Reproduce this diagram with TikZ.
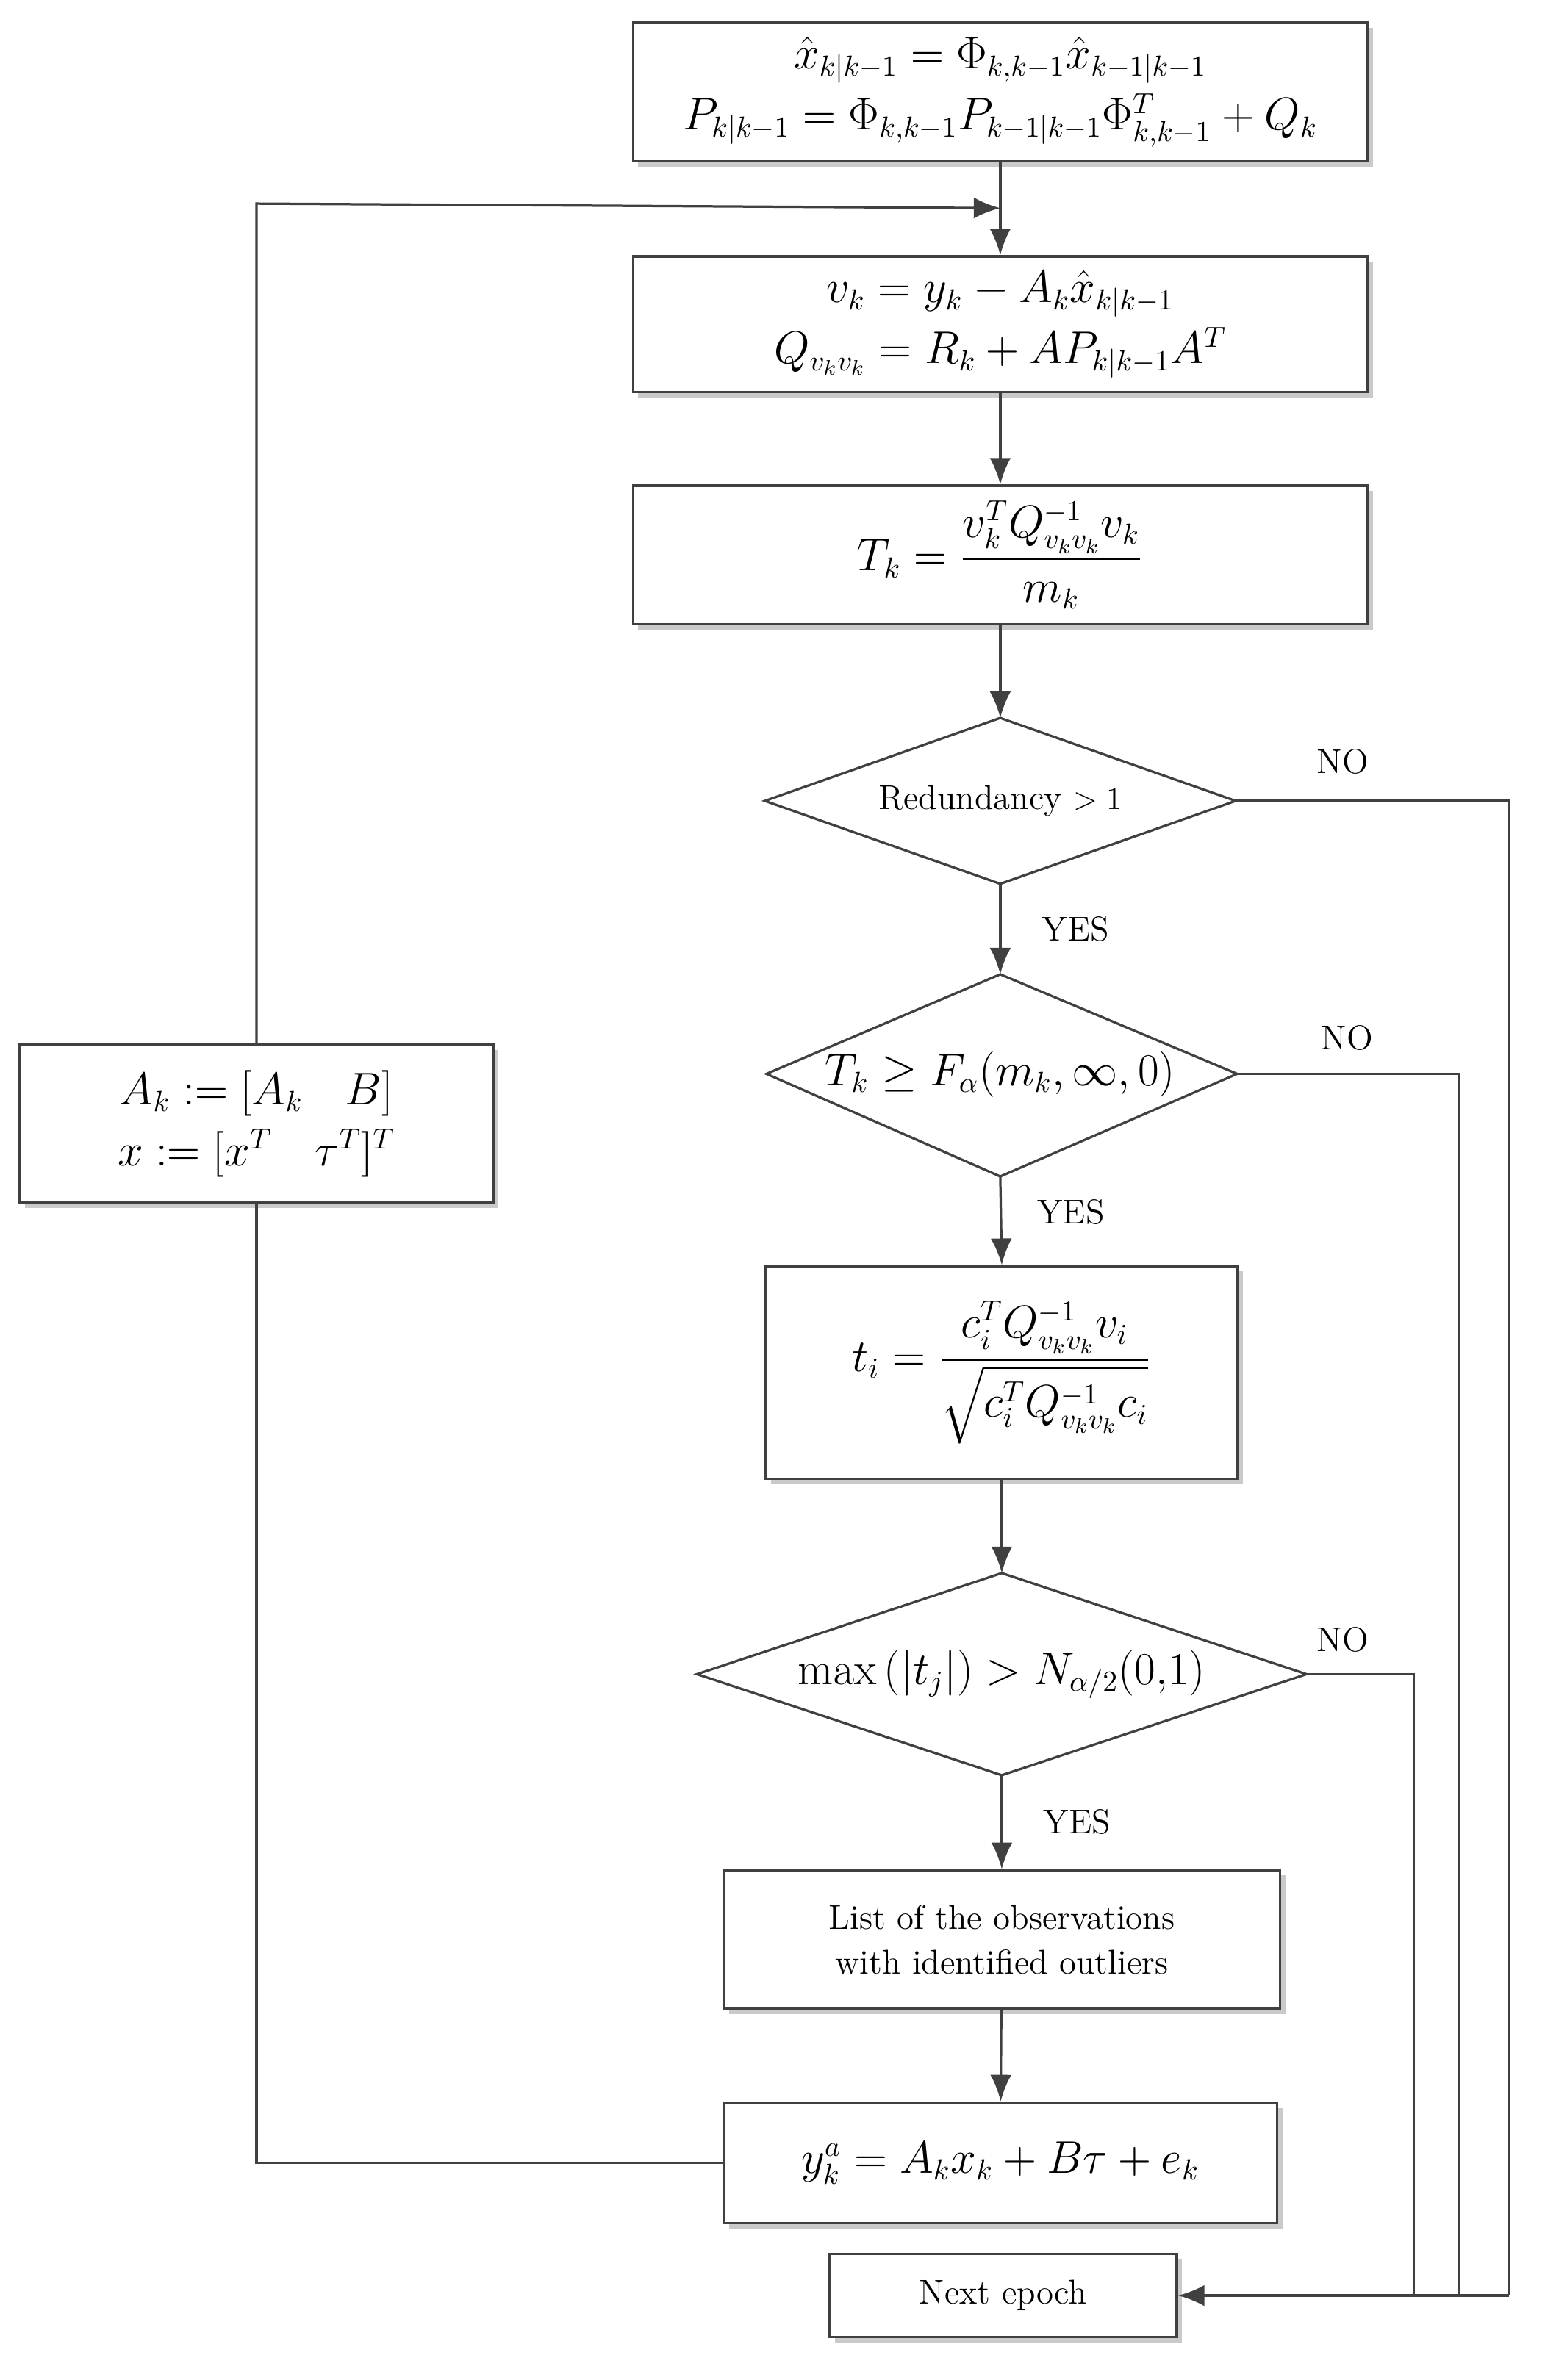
\documentclass[tikz,border=0pt]{standalone}
\usepackage{amsmath,amssymb}
\usetikzlibrary{shapes.geometric,arrows.meta,shadows}
\begin{document}
\begin{tikzpicture}[x=0.02cm,y=-0.02cm,
  ln/.style={draw=black!75,line width=0.9pt},
  arr/.style={ln,-{Latex[length=10pt,width=8pt]}},
  bx/.style={draw=black!75,line width=0.9pt,fill=white,drop shadow={shadow xshift=2pt,shadow yshift=-2pt,fill=black!35,opacity=0.6},align=center,inner sep=0pt,font=\fontsize{16}{23}\selectfont},
  dt/.style={align=center,inner sep=0pt,font=\fontsize{16}{20}\selectfont},
  lb/.style={font=\fontsize{13}{15}\selectfont}]
\useasboundingbox (0,0) rectangle (1024,1578);
\node[bx,minimum width=9.74cm,minimum height=1.84cm] (b1) at (663,61)
 {$\hat{x}_{k|k-1}=\Phi_{k,k-1}\hat{x}_{k-1|k-1}$\\ $P_{k|k-1}=\Phi_{k,k-1}P_{k-1|k-1}\Phi^{T}_{k,k-1}+Q_k$};
\node[bx,minimum width=9.74cm,minimum height=1.8cm] (b2) at (663,215)
 {$v_k=y_k-A_k\hat{x}_{k|k-1}$\\ $Q_{v_kv_k}=R_k+AP_{k|k-1}A^{T}$};
\node[bx,minimum width=9.74cm,minimum height=1.84cm] (b3) at (663,368)
 {$T_k=\dfrac{v_k^{T}Q^{-1}_{v_kv_k}v_k}{m_k}$};
% diamonds
\coordinate (d1t) at (663,476); \coordinate (d1b) at (663,586);
\coordinate (d1l) at (507,531); \coordinate (d1r) at (819,531);
\draw[ln] (d1t) -- (d1r) -- (d1b) -- (d1l) -- cycle;
\node[dt,font=\fontsize{13}{15}\selectfont] (d1) at (663,531) {Redundancy $>1$};
\coordinate (d2t) at (663,646); \coordinate (d2b) at (663,780);
\coordinate (d2l) at (508,712); \coordinate (d2r) at (820,712);
\draw[ln] (d2t) -- (d2r) -- (d2b) -- (d2l) -- cycle;
\node[dt] (d2) at (663,712) {$T_k\geq F_\alpha(m_k,\infty,0)$};
\node[bx,minimum width=6.26cm,minimum height=2.82cm] (b4) at (664,910)
 {$t_i=\dfrac{c_i^{T}Q^{-1}_{v_kv_k}v_i}{\sqrt{c_i^{T}Q^{-1}_{v_kv_k}c_i}}$};
\coordinate (d3t) at (664,1043); \coordinate (d3b) at (664,1177);
\coordinate (d3l) at (462,1110); \coordinate (d3r) at (866,1110);
\draw[ln] (d3t) -- (d3r) -- (d3b) -- (d3l) -- cycle;
\node[dt] (d3) at (664,1110) {$\max\left(|t_j|\right)>N_{\alpha/2}(0{,}1)$};
\node[bx,minimum width=7.38cm,minimum height=1.84cm,font=\fontsize{13}{17}\selectfont] (b5) at (664,1286)
 {List of the observations\\ with identified outliers};
\node[bx,minimum width=7.34cm,minimum height=1.6cm] (b6) at (663,1434) {$y_k^{a}=A_kx_k+B\tau+e_k$};
\node[bx,minimum width=4.6cm,minimum height=1.1cm,font=\fontsize{13}{15}\selectfont] (b7) at (665,1522) {Next epoch};
\node[bx,minimum width=6.28cm,minimum height=2.1cm] (b8) at (170,745)
 {$A_k:=[A_k\quad B]$\\ $x:=[x^{T}\quad \tau^{T}]^{T}$};
\coordinate (j) at (663,138);
\draw[ln] (b1.south) -- (j);
\draw[arr] (j) -- (b2.north);
\draw[arr] (b2) -- (b3);
\draw[arr] (b3.south) -- (d1t);
\draw[arr] (d1b) -- (d2t) node[lb,pos=0.5,right=12pt] {YES};
\draw[arr] (d2b) -- (b4.north) node[lb,pos=0.4,right=10pt] {YES};
\draw[arr] (b4.south) -- (d3t);
\draw[arr] (d3b) -- (b5.north) node[lb,pos=0.5,right=12pt] {YES};
\draw[arr] (b5) -- (b6);
\draw[ln] (b6.west) -| (b8.south);
\draw[arr] (b8.north) |- (170,135) -- (j);
\draw[ln] (d1r) -- (1000,531) -- (1000,1522);
\draw[ln] (d2r) -- (967,712) -- (967,1522);
\draw[ln] (d3r) -- (937,1110) -- (937,1522);
\draw[arr] (1000,1522) -- (b7.east);
\node[lb] (n1) at (890,505) {NO};
\node[lb] (n2) at (893,688) {NO};
\node[lb] (n3) at (890,1087) {NO};
\end{tikzpicture}
\end{document}
